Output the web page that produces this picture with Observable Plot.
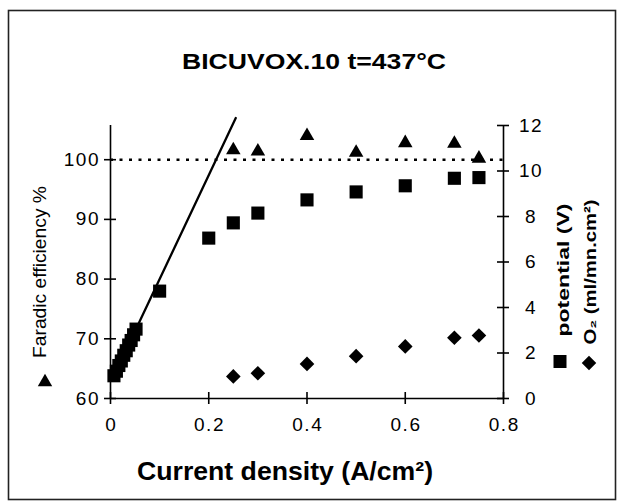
<!DOCTYPE html>
<html>
<head>
<meta charset="utf-8">
<script src="https://cdn.jsdelivr.net/npm/d3@7"></script>
<script src="https://cdn.jsdelivr.net/npm/@observablehq/plot@0.6"></script>
<style>
  body { margin: 0; background: #fff; }
  svg { display: block; }
</style>
</head>
<body>
<div id="chart"></div>
<script>
// ---- data ----
const feCurrent   = [0.25, 0.3, 0.4, 0.5, 0.6, 0.7, 0.75];
const faradicEff  = [101.6, 101.4, 104.0, 101.2, 102.8, 102.7, 100.2];

const potCurrent  = [0.007, 0.012, 0.017, 0.022, 0.027, 0.032, 0.037, 0.042, 0.047, 0.052,
                     0.1, 0.2, 0.25, 0.3, 0.4, 0.5, 0.6, 0.7, 0.75];
const potential   = [1.0, 1.2, 1.45, 1.65, 1.9, 2.1, 2.35, 2.55, 2.8, 3.05,
                     4.72, 7.05, 7.72, 8.15, 8.73, 9.08, 9.35, 9.68, 9.71];

const o2Current   = [0.25, 0.3, 0.4, 0.5, 0.6, 0.7, 0.75];
const o2Flow      = [0.97, 1.11, 1.52, 1.86, 2.29, 2.67, 2.77];

const fitCurrent   = [0.007, 0.255];
const fitPotential = [1.0, 12.33];

const refEfficiency = [100];

const xTicks     = [0, 0.2, 0.4, 0.6, 0.8];
const xTickText  = ["0", "0.2", "0.4", "0.6", "0.8"];
const leftTicks  = [60, 70, 80, 90, 100];
const rightTicks = [0, 2, 4, 6, 8, 10, 12];

const title       = "BICUVOX.10 t=437°C";
const xLabel      = "Current density (A/cm²)";
const leftLabel   = "Faradic efficiency %";
const rightLabel1 = "potential (V)";
const rightLabel2 = "O₂ (ml/mn.cm²)";

// ---- dual axis: right axis (0–12) mapped onto the left scale (60–…) ----
const K = 3.8107;                    // left units per right unit
const leftMax = 60 + 12 * K;
const toLeft = v => 60 + v * K;

const fe  = feCurrent.map((x, i) => ({x, y: faradicEff[i]}));
const pot = potCurrent.map((x, i) => ({x, y: toLeft(potential[i])}));
const o2  = o2Current.map((x, i) => ({x, y: toLeft(o2Flow[i])}));
const fit = fitCurrent.map((x, i) => ({x, y: toLeft(fitPotential[i])}));

const FONT = "'Liberation Sans', Arial, Helvetica, sans-serif";

const chart = Plot.plot({
  width: 621,
  height: 502,
  marginLeft: 110,
  marginRight: 118,
  marginTop: 125,
  marginBottom: 104,
  style: {fontFamily: FONT, fontSize: "19px", background: "#fff", color: "#000", overflow: "visible"},
  x: {domain: [0, 0.8], axis: null},
  y: {domain: [60, leftMax], axis: null},
  marks: [
    // reference line at 100 %
    Plot.ruleY(refEfficiency, {stroke: "#000", strokeWidth: 2.5, strokeDasharray: "3,6.5"}),
    // axis lines
    Plot.ruleX([0], {stroke: "#000", strokeWidth: 1.6}),
    Plot.ruleX([0.8], {stroke: "#000", strokeWidth: 1.6}),
    Plot.ruleY([60], {stroke: "#000", strokeWidth: 1.6}),
    // crossing tick marks
    Plot.ruleY(leftTicks, {y: d => d, x1: 0, x2: 0, insetLeft: -6, insetRight: -6, stroke: "#000", strokeWidth: 1.6}),
    Plot.ruleY(rightTicks, {y: d => toLeft(d), x1: 0.8, x2: 0.8, insetLeft: -6, insetRight: -6, stroke: "#000", strokeWidth: 1.6}),
    Plot.ruleX(xTicks, {x: d => d, y1: 60, y2: 60, insetTop: -6, insetBottom: -6, stroke: "#000", strokeWidth: 1.6}),
    // tick labels
    Plot.text(leftTicks, {y: d => d, text: d => String(d), frameAnchor: "left", textAnchor: "end", dx: -10.5, fill: "#000"}),
    Plot.text(rightTicks, {y: d => toLeft(d), text: d => String(d), frameAnchor: "right", textAnchor: "middle", dx: 27.5, fill: "#000"}),
    Plot.text(xTicks, {x: d => d, text: (d, i) => xTickText[i], frameAnchor: "bottom", dy: 32, dx: 0.75, fill: "#000"}),
    // linear fit line
    Plot.line(fit, {x: "x", y: "y", stroke: "#000", strokeWidth: 2.3}),
    // data
    Plot.dot(pot, {x: "x", y: "y", symbol: "square", r: 7.4, fill: "#000", stroke: "none"}),
    Plot.dot(o2, {x: "x", y: "y", symbol: "diamond2", r: 6.6, fill: "#000", stroke: "none"}),
    Plot.dot(fe, {x: "x", y: "y", symbol: "triangle", r: 5.4, fill: "#000", stroke: "none"})
  ]
});

const svg = d3.select(chart);
svg.selectAll("g[aria-label='text'] text").attr("letter-spacing", "1.5");

// outer frame
svg.insert("rect", ":first-child")
  .attr("x", 8.5).attr("y", 10.5).attr("width", 607).attr("height", 489)
  .attr("fill", "none").attr("stroke", "#222").attr("stroke-width", 1.6);

function label(txt, {x, y, size, weight = "normal", len, rotate = false}) {
  return svg.append("text")
    .attr("transform", rotate ? `translate(${x},${y}) rotate(-90)` : `translate(${x},${y})`)
    .attr("text-anchor", "middle")
    .attr("font-family", FONT)
    .attr("font-size", size)
    .attr("font-weight", weight)
    .attr("fill", "#000")
    .attr("textLength", len)
    .attr("lengthAdjust", "spacingAndGlyphs")
    .text(txt);
}

label(title,       {x: 314, y: 69, size: 22, weight: "bold", len: 264});
label(xLabel,      {x: 285, y: 480, size: 25, weight: "bold", len: 296});
label(leftLabel,   {x: 46,  y: 272, size: 18, len: 172, rotate: true});
label(rightLabel1, {x: 569, y: 270, size: 17, weight: "bold", len: 133, rotate: true});
label(rightLabel2, {x: 596, y: 272, size: 17, weight: "bold", len: 145, rotate: true});

// legend symbols next to the axis titles
const sym = (type, size, x, y) => svg.append("path")
  .attr("d", d3.symbol(type, size)())
  .attr("transform", `translate(${x},${y})`)
  .attr("fill", "#000");
sym(d3.symbolTriangle, 90, 45, 382);
sym(d3.symbolSquare, 169, 560, 361.5);
sym(d3.symbolDiamond2, 135, 589, 363);

document.getElementById("chart").appendChild(chart);
</script>
</body>
</html>
